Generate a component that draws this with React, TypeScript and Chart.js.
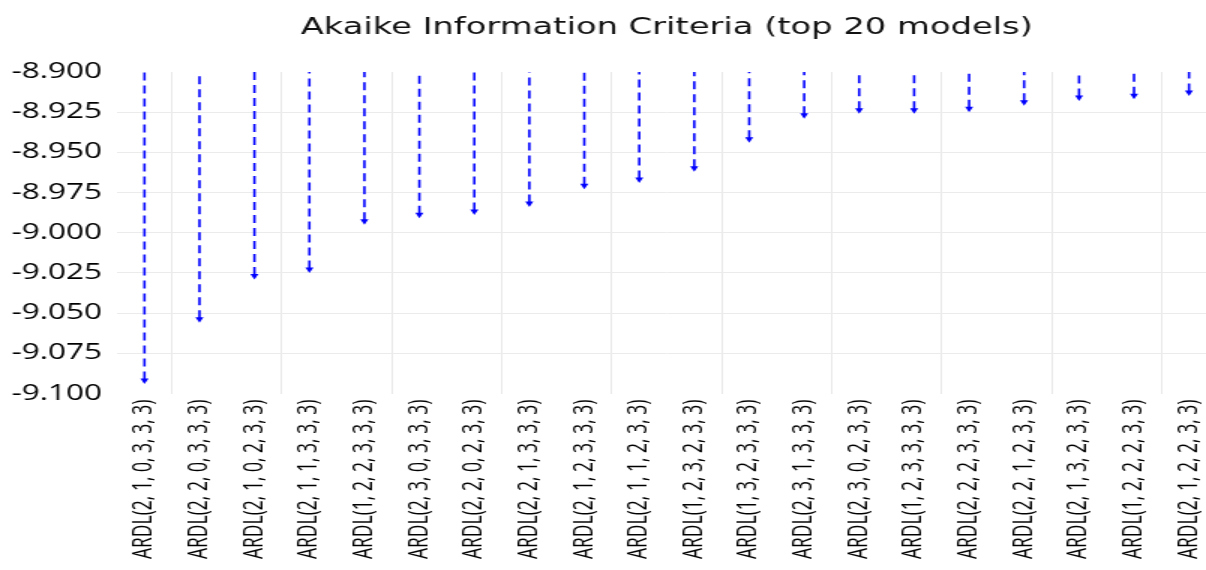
import React, { useEffect, useRef } from "react";
import Chart from "chart.js/auto";

const titleText = "Akaike Information Criteria (top 20 models)";

const modelLabels = [
  "ARDL(2, 1, 0, 3, 3, 3)",
  "ARDL(2, 2, 0, 3, 3, 3)",
  "ARDL(2, 1, 0, 2, 3, 3)",
  "ARDL(2, 1, 1, 3, 3, 3)",
  "ARDL(1, 2, 2, 3, 3, 3)",
  "ARDL(2, 3, 0, 3, 3, 3)",
  "ARDL(2, 2, 0, 2, 3, 3)",
  "ARDL(2, 2, 1, 3, 3, 3)",
  "ARDL(2, 1, 2, 3, 3, 3)",
  "ARDL(2, 1, 1, 2, 3, 3)",
  "ARDL(1, 2, 3, 2, 3, 3)",
  "ARDL(1, 3, 2, 3, 3, 3)",
  "ARDL(2, 3, 1, 3, 3, 3)",
  "ARDL(2, 3, 0, 2, 3, 3)",
  "ARDL(1, 2, 3, 3, 3, 3)",
  "ARDL(2, 2, 2, 3, 3, 3)",
  "ARDL(2, 2, 1, 2, 3, 3)",
  "ARDL(2, 1, 3, 2, 3, 3)",
  "ARDL(1, 2, 2, 2, 3, 3)",
  "ARDL(2, 1, 2, 2, 3, 3)",
];

const aicValues = [
  -9.094, -9.056, -9.029, -9.025, -8.995, -8.991, -8.989, -8.984, -8.973, -8.969,
  -8.962, -8.944, -8.929, -8.926, -8.926, -8.925, -8.921, -8.918, -8.917, -8.915,
];

const yMin = -9.1;
const yMax = -8.9;
const yStep = 0.025;

const arrowPlugin = {
  id: "aicArrows",
  afterDatasetsDraw(chart: any) {
    const meta = chart.getDatasetMeta(0);
    const ctx = chart.ctx;
    const top = chart.chartArea.top;
    const color = "#0000ff";
    ctx.save();
    meta.data.forEach((pt: any) => {
      const x = pt.x;
      const y = pt.y;
      const headH = 5.5;
      const headW = 2.7;
      ctx.strokeStyle = color;
      ctx.lineWidth = 1.6;
      ctx.setLineDash([8, 5]);
      ctx.beginPath();
      ctx.moveTo(x, y - headH + 1);
      ctx.lineTo(x, top);
      ctx.stroke();
      ctx.setLineDash([]);
      ctx.fillStyle = color;
      ctx.beginPath();
      ctx.moveTo(x - headW, y - headH);
      ctx.lineTo(x + headW, y - headH);
      ctx.lineTo(x, y);
      ctx.closePath();
      ctx.fill();
    });
    ctx.restore();
  },
};

export default function App() {
  const canvasRef = useRef<HTMLCanvasElement | null>(null);

  useEffect(() => {
    if (!canvasRef.current) return;
    const chart = new Chart(canvasRef.current, {
      type: "line",
      data: {
        labels: modelLabels,
        datasets: [
          {
            data: aicValues,
            showLine: false,
            pointRadius: 0,
            pointHoverRadius: 0,
            borderColor: "#0000ff",
            backgroundColor: "#0000ff",
          },
        ],
      },
      options: {
        responsive: false,
        animation: false,
        devicePixelRatio: 1,
        layout: { padding: { left: 7.5, right: 9, top: 0, bottom: 5 } },
        plugins: {
          legend: { display: false },
          tooltip: { enabled: false },
          title: {
            display: true,
            fullSize: false,
            text: titleText,
            color: "#111",
            font: { family: "DejaVu Sans", size: 22.5, weight: "normal" },
            padding: { top: 15, bottom: 30 },
          },
        },
        scales: {
          x: {
            type: "category",
            offset: true,
            border: { display: false },
            grid: {
              offset: true,
              drawTicks: false,
              color: (c: any) => (c.index % 2 === 1 ? "#e8e8e8" : "rgba(0,0,0,0)"),
              lineWidth: 1,
            },
            ticks: {
              autoSkip: false,
              maxRotation: 90,
              minRotation: 90,
              padding: 6,
              color: "#000",
              font: { family: "Open Sans", size: 17.5 },
            },
            afterFit: (scale: any) => {
              scale.paddingLeft = 0;
              scale.paddingRight = 0;
            },
          },
          y: {
            min: yMin,
            max: yMax,
            border: { display: false },
            grid: {
              drawTicks: false,
              color: (c: any) =>
                c.index === 0 || c.index === 8 ? "rgba(0,0,0,0)" : "#ebebeb",
            },
            ticks: {
              stepSize: yStep,
              padding: 10,
              color: "#000",
              font: { family: "Open Sans", size: 21 },
              callback: (v: any) => Number(v).toFixed(3),
            },
            afterFit: (scale: any) => {
              scale.width = 70.5;
            },
          },
        },
      },
      plugins: [arrowPlugin],
    });
    return () => chart.destroy();
  }, []);

  return (
    <div
      style={{
        position: "fixed",
        left: 0,
        top: 0,
        width: 1206,
        height: 570,
        overflow: "hidden",
        background: "#fff",
      }}
    >
      <div
        style={{
          width: 820,
          height: 570,
          transform: "scaleX(1.5)",
          transformOrigin: "0 0",
        }}
      >
        <canvas ref={canvasRef} width={820} height={570} style={{ display: "block" }} />
      </div>
    </div>
  );
}
